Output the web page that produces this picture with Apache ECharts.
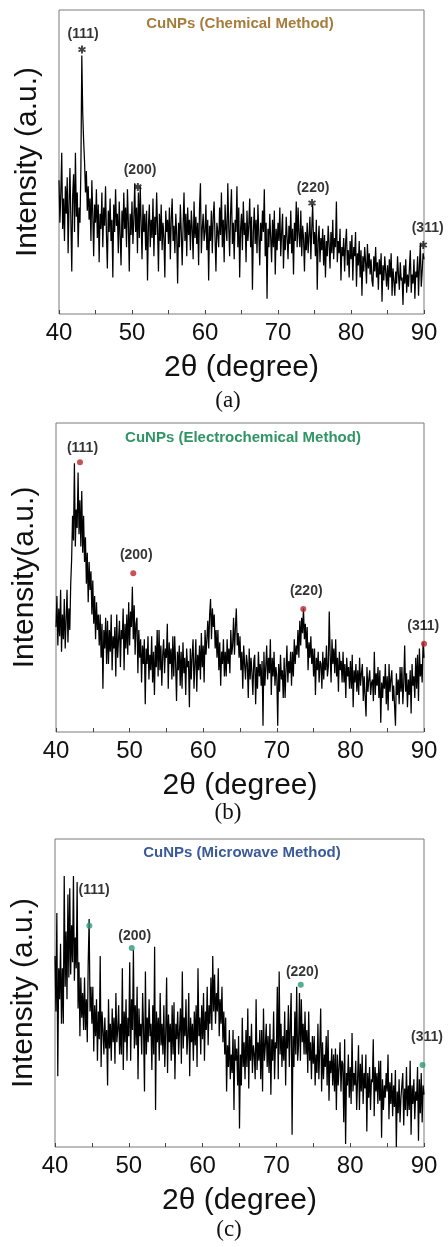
<!DOCTYPE html>
<html><head><meta charset="utf-8">
<script src="https://cdn.jsdelivr.net/npm/echarts@6/dist/echarts.min.js"></script>
<style>html,body{margin:0;padding:0;background:#fff}#c{width:448px;height:1247px}</style>
</head><body><div id="c"></div>
<script>
// sampling grid of 2θ (degrees)
const angleStart = 40, angleStep = 0.125;
const xTicks = [40, 50, 60, 70, 80, 90];

// intensities (arbitrary units, 0..100 of the plot height), 8 values per degree
const intensityA = [
44,30,40,53,28,38,24,42, 33,45,20,36,48,31,14,39, 46,27,53,32,40,22,35,30,
48,85,66,57,50,40,47,34, 42,31,38,24,44,33,19,36, 30,41,25,36,17,33,28,40,
22,35,29,42,26,15,34,27, 38,24,31,12,36,27,41,29, 33,20,37,26,16,34,25,40,
28,35,22,41,30,14,33,26, 37,23,31,43,27,35,20,40, 25,42,30,18,36,27,33,21,
34,11,29,36,22,31,25,38, 19,32,26,40,28,14,33,24, 36,21,30,25,12,34,27,31,
23,35,18,31,38,24,29,20, 33,26,10,30,22,36,27,16, 29,40,24,33,19,35,26,31,
21,34,28,18,37,25,32,23, 30,16,35,43,20,28,33,24, 27,36,21,31,11,29,24,34,
20,32,37,25,14,30,27,22, 35,26,40,22,31,17,36,28, 24,43,29,19,33,41,23,30,
18,31,27,42,22,35,12,28, 33,21,37,26,30,17,34,24, 29,38,22,32,8,27,35,23,
31,20,36,26,16,30,24,34, 27,41,19,30,5,28,22,33, 25,17,31,22,34,13,28,21,
30,24,35,19,27,33,15,26, 21,32,25,18,29,23,34,20, 28,13,30,24,37,22,35,26,
22,34,19,29,25,14,27,21, 30,20,26,32,18,28,36,23, 27,19,31,8,24,29,17,25,
21,28,16,26,12,24,19,29, 23,15,27,20,31,18,25,22, 37,17,24,20,28,11,22,19,
25,14,23,28,16,21,12,24, 18,26,11,22,19,27,9,20, 16,24,12,21,6,19,14,22,
17,10,23,15,20,13,18,11, 9,19,14,22,12,17,8,18, 13,20,4,16,11,19,14,9,
16,8,18,12,20,6,15,11, 6,14,10,19,13,8,17,11, 12,3,16,10,18,7,13,9,
15,21,7,13,10,18,5,14, 12,19,6,16,23,9,14,20,
18];
const intensityB = [
34,44,28,40,31,46,26,38, 30,43,27,36,46,29,40,33, 48,56,70,62,87,60,72,66,
84,64,75,60,78,58,70,55, 63,48,58,42,55,46,52,38, 49,35,44,30,42,33,38,28,
38,24,35,14,33,27,37,22, 36,22,33,26,38,20,31,27, 34,18,38,24,30,36,21,33,
30,40,20,35,27,38,25,42, 28,39,34,47,30,41,25,35, 37,19,33,24,30,16,28,22,
30,9,27,22,31,17,25,20, 31,16,26,12,28,21,33,18, 33,20,28,15,25,30,19,27,
24,35,14,29,22,27,17,31, 18,31,22,10,26,20,28,15, 26,14,29,19,24,12,27,21,
23,8,27,17,25,30,14,22, 30,13,25,20,28,17,32,21, 28,16,33,25,30,36,27,38,
43,30,40,34,38,27,33,24, 33,20,29,15,26,22,30,18, 26,18,30,22,27,19,33,25,
28,37,25,34,40,28,32,24, 31,20,26,14,28,22,17,25, 22,11,27,17,24,19,12,23,
25,9,21,14,26,18,22,15, 23,2,26,15,21,28,17,24, 19,30,12,24,18,26,15,21,
18,2,22,13,25,17,20,11, 24,11,20,28,16,23,19,26, 15,26,18,30,22,28,25,33,
24,36,28,37,32,40,30,35, 27,34,20,29,24,31,22,27, 18,27,12,24,20,26,16,23,
22,14,26,17,24,20,28,18, 21,39,25,16,30,22,27,19, 30,18,24,13,26,20,23,16,
26,16,22,11,24,18,21,14, 23,14,25,8,20,16,22,13, 20,12,24,15,19,22,10,18,
18,5,21,13,17,20,12,16, 17,10,26,12,19,15,21,11, 20,3,16,11,18,14,22,9,
18,7,22,13,17,20,10,15, 15,2,19,12,17,9,21,13, 21,9,16,28,13,19,8,17,
12,20,6,22,15,18,11,24, 14,25,10,27,18,22,16,29,
24];
const intensityC = [
62,44,76,23,58,48,66,40, 58,40,88,52,70,48,82,55, 84,56,72,60,88,54,68,58,
86,45,60,36,55,42,50,38, 55,38,48,34,60,74,44,52, 40,52,31,46,36,48,28,44,
35,62,26,44,38,30,42,32, 38,20,48,32,40,28,45,34, 42,27,50,34,38,46,30,40,
30,58,25,44,34,48,28,42, 36,60,28,48,38,64,32,46, 33,52,22,45,36,40,30,50,
38,18,57,30,42,34,48,36, 40,25,46,30,65,12,44,34, 42,28,50,33,40,30,46,26,
37,55,24,43,34,40,28,46, 30,47,22,40,35,44,30,38, 45,27,57,32,42,36,48,30,
36,50,23,42,34,40,28,44, 33,46,26,58,36,42,30,46, 35,50,28,44,38,52,33,46,
40,55,38,62,44,56,40,50, 44,58,36,48,40,52,34,44, 30,42,18,33,26,38,22,30,
24,38,12,35,28,32,20,36, 6,30,20,42,26,34,22,38, 26,45,19,36,28,40,24,33,
30,22,48,25,34,28,38,22, 38,18,45,28,33,40,26,36, 24,40,17,35,28,44,22,34,
32,52,22,57,30,40,26,36, 28,44,20,38,32,46,26,40, 50,4,36,26,44,30,52,28,
33,50,28,48,34,40,30,44, 30,38,24,44,28,34,22,36, 27,36,20,30,24,40,22,32,
45,18,34,22,30,26,36,20, 38,15,28,24,32,20,30,18, 32,12,30,20,26,34,18,28,
27,8,35,1,24,20,30,16, 26,14,37,18,24,20,28,12, 22,33,12,27,18,30,14,24,
19,30,5,24,16,26,12,22, 21,35,10,26,18,24,14,28, 15,28,3,22,12,20,16,24,
18,30,9,21,14,24,10,20, 13,25,0,18,11,22,8,16, 16,24,7,19,12,26,10,20,
12,28,4,20,14,22,9,18, 15,26,2,22,11,24,8,20,
17];

// peak annotations
const peakNames = ['(111)', '(200)', '(220)', '(311)'];
const peakXA = [43.15, 50.8, 74.66, 89.9],  peakYA = [87, 41.8, 36.5, 22.7];
const labelXA = [43.3, 51.1, 74.8, 90.5],   labelYA = [92, 47.4, 41.4, 28.3];
const peakXB = [43.26, 50.5, 73.6, 90.0],   peakYB = [87.3, 51.4, 39.8, 28.6];
const labelXB = [43.6, 50.9, 74.0, 89.9],   labelYB = [92, 57.3, 45.7, 34.3];
const peakXC = [44.65, 50.4, 73.3, 89.8],   peakYC = [71.8, 64.6, 52.7, 26.6];
const labelXC = [45.3, 50.8, 73.5, 90.4],   labelYC = [83.4, 68.5, 56.9, 35.8];

const titles = ['CuNPs (Chemical Method)', 'CuNPs (Electrochemical Method)', 'CuNPs (Microwave Method)'];
const yNames = ['Intensity (a.u.)', 'Intensity(a.u.)', 'Intensity (a.u.)'];
const captions = ['(a)', '(b)', '(c)'];

const FONT = '"Liberation Sans", Arial, Helvetica, sans-serif';
const grids = [
  {left: 59, right: 24, top: 10, height: 304},
  {left: 56, right: 24, top: 423, height: 309},
  {left: 55, right: 24, top: 839, height: 308}
];
const titleColors = ['#a67c3c', '#2f9565', '#3a5a98'];
const markerColors = ['#111111', '#b8262c', '#2a9a78'];
const titlePos = [[240, 24], [243, 438], [242, 853]];
const captionPos = [[228, 401], [228, 813], [229, 1230]];

const asterisk = 'path://M3.8,0L6.2,0L6.2,10L3.8,10Z M0.07,3.54L1.27,1.46L9.93,6.46L8.73,8.54Z M0.07,6.46L8.73,1.46L9.93,3.54L1.27,8.54Z';

function seriesData(arr) { return arr.map((v, i) => [angleStart + i * angleStep, v]); }
function pts(xs, ys) { return xs.map((x, i) => [x, ys[i], peakNames[i]]); }

const datasets = [
  {I: intensityA, px: peakXA, py: peakYA, lx: labelXA, ly: labelYA},
  {I: intensityB, px: peakXB, py: peakYB, lx: labelXB, ly: labelYB},
  {I: intensityC, px: peakXC, py: peakYC, lx: labelXC, ly: labelYC}
];

const option = {
  animation: false,
  backgroundColor: '#ffffff',
  grid: grids.map(g => Object.assign({show: true, borderColor: '#7a7a7a', borderWidth: 1, backgroundColor: 'transparent'}, g)),
  xAxis: grids.map((g, k) => ({
    gridIndex: k, type: 'value', min: 40, max: 90, interval: 10,
    axisLine: {show: false},
    axisTick: {show: true, inside: true, length: 4, lineStyle: {color: '#444'}},
    minorTick: {show: true, splitNumber: 2, length: 4, lineStyle: {color: '#444'}},
    splitLine: {show: false},
    axisLabel: {margin: 7, fontSize: 24, color: '#111', fontFamily: FONT,
      formatter: v => xTicks.indexOf(v) >= 0 ? String(v) : ''},
    name: '2θ (degree)', nameLocation: 'middle', nameGap: 39,
    nameTextStyle: {fontSize: 30, color: '#111', fontFamily: FONT}
  })),
  yAxis: grids.map((g, k) => ({
    gridIndex: k, type: 'value', min: 0, max: 100,
    axisLine: {show: false}, axisTick: {show: false}, axisLabel: {show: false}, splitLine: {show: false},
    name: yNames[k], nameLocation: 'middle', nameRotate: 90, nameGap: 16,
    nameTextStyle: {fontSize: 30, color: '#111', fontFamily: FONT}
  })),
  series: [].concat(...datasets.map((d, k) => [
    {type: 'line', xAxisIndex: k, yAxisIndex: k, data: seriesData(d.I), symbol: 'none',
     lineStyle: {color: '#000', width: 1.25}, z: 2},
    {type: 'scatter', xAxisIndex: k, yAxisIndex: k, data: pts(d.px, d.py), clip: false,
     symbol: k === 0 ? asterisk : 'circle', symbolSize: k === 0 ? 8 : 6,
     itemStyle: {color: markerColors[k]}, z: 4},
    {type: 'scatter', xAxisIndex: k, yAxisIndex: k, data: pts(d.lx, d.ly), clip: false,
     symbolSize: 0, z: 5,
     label: {show: true, position: 'inside', formatter: p => p.data[2],
       fontSize: 14, fontWeight: 'bold', color: '#000', fontFamily: FONT}}
  ])),
  graphic: [].concat(
    titles.map((t, k) => ({type: 'text', x: titlePos[k][0], y: titlePos[k][1], z: 10,
      style: {text: t, align: 'center', verticalAlign: 'middle', fill: titleColors[k],
        font: 'bold 15px ' + FONT}})),
    captions.map((t, k) => ({type: 'text', x: captionPos[k][0], y: captionPos[k][1], z: 10,
      style: {text: t, align: 'center', verticalAlign: 'middle', fill: '#111',
        font: '23px "Liberation Serif", "Times New Roman", serif'}}))
  )
};
const chart = echarts.init(document.getElementById('c'), null, {renderer: 'canvas'});
chart.setOption(option);
</script></body></html>
